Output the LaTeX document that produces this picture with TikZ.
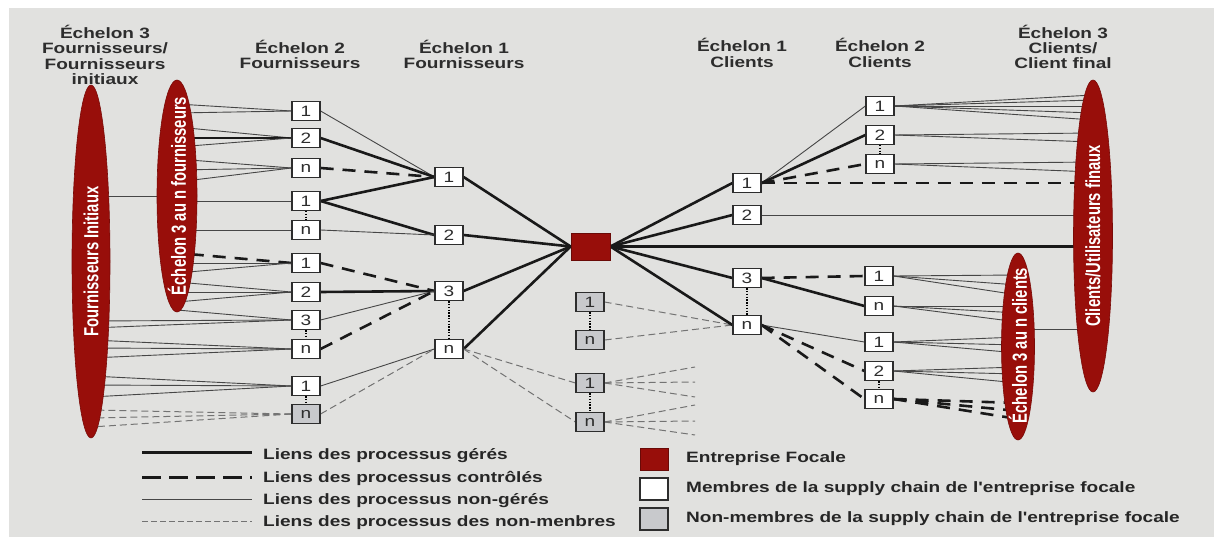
\documentclass[tikz,border=0pt]{standalone}
\usepackage{fontspec}
\usepackage{graphicx}
\setmainfont{Liberation Sans}
\newfontfamily\widefont{Liberation Sans}[FakeStretch=1.27]
\usetikzlibrary{shapes.geometric}

\definecolor{paper}{RGB}{225,225,223}
\definecolor{focalred}{RGB}{152,14,10}
\definecolor{greybox}{RGB}{200,201,204}
\definecolor{ink}{RGB}{45,45,45}
\definecolor{thinline}{RGB}{70,70,70}
\definecolor{ghostline}{RGB}{115,115,115}

\pgfdeclarelayer{backdrop}
\pgfdeclarelayer{links}
\pgfsetlayers{backdrop,links,main}

\begin{document}
\begin{tikzpicture}[x=1pt,y=-1pt,
  member/.style={draw=ink,line width=1.2pt,fill=white,minimum width=28pt,minimum height=19pt,
    inner sep=0pt,text=ink,font=\widefont\fontsize{15}{15}\selectfont},
  outsider/.style={member,fill=greybox},
  focalbox/.style={draw=focalred!70!black,line width=0.8pt,fill=focalred,minimum width=39pt,
    minimum height=27pt,inner sep=0pt},
  tierell/.style={ellipse,fill=focalred,draw=focalred!80!black,line width=0.6pt,inner sep=0pt},
  elltext/.style={rotate=90,text=white,inner sep=0pt,font=\bfseries\fontsize{14.8}{15}\selectfont},
  header/.style={align=center,inner sep=0pt,text=ink,font=\widefont\bfseries\fontsize{15}{15.3}\selectfont},
  legtext/.style={anchor=west,inner sep=0pt,text=black!85,font=\widefont\bfseries\fontsize{15}{15}\selectfont},
  managed/.style={line width=2.6pt,black!90},
  controlled/.style={line width=2.6pt,black!90,dash pattern=on 13pt off 9pt},
  unmanaged/.style={line width=0.9pt,thinline},
  nonmember/.style={line width=1pt,ghostline,dash pattern=on 7pt off 4pt},
  dotlink/.style={line width=1.3pt,black,dash pattern=on 1.4pt off 1.4pt},
]
\useasboundingbox (0,0) rectangle (1214,537);
\begin{pgfonlayer}{backdrop}
  \fill[white] (0,0) rectangle (1214,537);
  \fill[paper] (9,8) rectangle (1214,537);
\end{pgfonlayer}

% ---------- column headers ----------
\node[header] (hS3) at (105,55) {Échelon 3\\Fournisseurs/\\Fournisseurs\\initiaux};
\node[header] (hS2) at (300,54.5) {Échelon 2\\Fournisseurs};
\node[header] (hS1) at (464,54.5) {Échelon 1\\Fournisseurs};
\node[header] (hC1) at (742,53) {Échelon 1\\Clients};
\node[header] (hC2) at (880,53) {Échelon 2\\Clients};
\node[header] (hC3) at (1063,47) {Échelon 3\\Clients/\\Client final};

% ---------- tier ellipses ----------
\node[tierell,minimum width=38pt,minimum height=353pt] (FI) at (91,261.5) {};
\node[tierell,minimum width=40pt,minimum height=232pt] (SE3) at (177,196) {};
\node[tierell,minimum width=39pt,minimum height=312pt] (CU) at (1093,236) {};
\node[tierell,minimum width=33pt,minimum height=187pt] (CE3) at (1018,346.5) {};
\node[elltext] (FIlab) at (FI.center) {\scalebox{1}[1.38]{Fournisseurs Initiaux}};
\node[elltext] (SE3lab) at (SE3.center) {\scalebox{1}[1.38]{Échelon 3 au n fournisseurs}};
\node[elltext] (CUlab) at (CU.center) {\scalebox{1}[1.38]{Clients/Utilisateurs finaux}};
\node[elltext] (CE3lab) at ([yshift=1pt]CE3.center) {\scalebox{1}[1.38]{Échelon 3 au n clients}};

% ---------- supplier boxes, tier 2 ----------
\node[member] (e2a1) at (306,111) {1};
\node[member] (e2a2) at (306,138) {2};
\node[member] (e2an) at (306,168) {n};
\node[member] (e2b1) at (306,201) {1};
\node[member] (e2bn) at (306,230) {n};
\node[member] (e2c1) at (306,263) {1};
\node[member] (e2c2) at (306,292) {2};
\node[member] (e2c3) at (306,320) {3};
\node[member] (e2cn) at (306,349) {n};
\node[member] (e2d1) at (306,386) {1};
\node[outsider] (e2dn) at (306,414) {n};

% ---------- supplier boxes, tier 1 ----------
\node[member] (f1) at (449,177) {1};
\node[member] (f2) at (449,235) {2};
\node[member] (f3) at (449,291) {3};
\node[member] (fn) at (449,349) {n};

% ---------- focal company and outsiders ----------
\node[focalbox] (focal) at (590.5,246.5) {};
\node[outsider] (g1) at (590,302) {1};
\node[outsider] (gn) at (590,340) {n};
\node[outsider] (h1) at (590,383) {1};
\node[outsider] (hn) at (590,422) {n};

% ---------- customer boxes, tier 1 ----------
\node[member] (k1) at (747,183) {1};
\node[member] (k2) at (747,215) {2};
\node[member] (k3) at (747,278) {3};
\node[member] (kn) at (747,325) {n};

% ---------- customer boxes, tier 2 ----------
\node[member] (m1) at (880,106) {1};
\node[member] (m2) at (880,135) {2};
\node[member] (mn) at (880,164) {n};
\node[member] (p1) at (879,276) {1};
\node[member] (pn) at (879,306) {n};
\node[member] (q1) at (879,342) {1};
\node[member] (q2) at (879,371) {2};
\node[member] (qn) at (879,399) {n};

% ---------- end points on the ellipses ----------
\foreach \yy in {104,113,127,138,147,159,170,182,196,201,230,253,263,273,282,292,302,310}
  \coordinate (se\yy) at (177,\yy);
\foreach \yy in {196,321,328,340,348,358,376,385,397,410,418,427}
  \coordinate (fi\yy) at (91,\yy);
\foreach \yy in {95,100,106,113,120,133,142,162,172,329}
  \coordinate (cu\yy) at (1093,\yy);
\foreach \yy in {275,285,295,306,313,322,329,337,345,353,367,374,383,403,411,419}
  \coordinate (ce\yy) at (1018,\yy);
% loose ends of the outsiders' links
\coordinate (fa1) at (695,367);
\coordinate (fa2) at (695,382);
\coordinate (fa3) at (695,397);
\coordinate (fa4) at (695,405);
\coordinate (fa5) at (695,421);
\coordinate (fa6) at (695,435);

\begin{pgfonlayer}{links}
  % ellipse to ellipse
  \draw[unmanaged] (fi196) -- (se196);
  \draw[unmanaged] (ce329) -- (cu329);
  % supplier tier 2 to tier 3
  \foreach \yy in {104,113} \draw[unmanaged] (e2a1.west) -- (se\yy);
  \draw[unmanaged] (e2a2.west) -- (se127);
  \draw[managed] (e2a2.west) -- (se138);
  \draw[unmanaged] (e2a2.west) -- (se147);
  \foreach \yy in {159,170,182} \draw[unmanaged] (e2an.west) -- (se\yy);
  \draw[unmanaged] (e2b1.west) -- (se201);
  \draw[unmanaged] (e2bn.west) -- (se230);
  \draw[controlled] (e2c1.west) -- (se253);
  \foreach \yy in {263,273} \draw[unmanaged] (e2c1.west) -- (se\yy);
  \foreach \yy in {282,292,302} \draw[unmanaged] (e2c2.west) -- (se\yy);
  \draw[unmanaged] (e2c3.west) -- (se310);
  \foreach \yy in {321,328} \draw[unmanaged] (e2c3.west) -- (fi\yy);
  \foreach \yy in {340,348,358} \draw[unmanaged] (e2cn.west) -- (fi\yy);
  \foreach \yy in {376,385,397} \draw[unmanaged] (e2d1.west) -- (fi\yy);
  \foreach \yy in {410,418,427} \draw[nonmember] (e2dn.west) -- (fi\yy);
  % supplier tier 2 to tier 1
  \draw[unmanaged] (e2a1.east) -- (f1.west);
  \draw[managed] (e2a2.east) -- (f1.west);
  \draw[controlled] (e2an.east) -- (f1.west);
  \draw[managed] (e2b1.east) -- (f1.west);
  \draw[managed] (e2b1.east) -- (f2.west);
  \draw[unmanaged] (e2bn.east) -- (f2.west);
  \draw[controlled] (e2c1.east) -- (f3.west);
  \draw[managed] (e2c2.east) -- (f3.west);
  \draw[unmanaged] (e2c3.east) -- (f3.west);
  \draw[controlled] (e2cn.east) -- (f3.west);
  \draw[unmanaged] (e2d1.east) -- (fn.west);
  \draw[nonmember] (e2dn.east) -- (fn.west);
  % supplier tier 1 to the focal company
  \foreach \b in {f1,f2,f3,fn} \draw[managed] (\b.east) -- (focal.west);
  % outsiders
  \draw[nonmember] (fn.east) -- (h1.west);
  \draw[nonmember] (fn.east) -- (hn.west);
  \draw[nonmember] (g1.east) -- (kn.west);
  \draw[nonmember] (gn.east) -- (kn.west);
  \foreach \e in {fa1,fa2,fa3} \draw[nonmember] (h1.east) -- (\e);
  \foreach \e in {fa4,fa5,fa6} \draw[nonmember] (hn.east) -- (\e);
  % focal company to customers
  \foreach \b in {k1,k2,k3,kn} \draw[managed] (focal.east) -- (\b.west);
  \draw[managed] (focal.east) -- (focal.east -| CU.center);
  % customer tier 1 to tier 2
  \draw[unmanaged] (k1.east) -- (m1.west);
  \draw[managed] (k1.east) -- (m2.west);
  \draw[controlled] (k1.east) -- (mn.west);
  \draw[controlled] (k1.east) -- (k1.east -| CU.center);
  \draw[unmanaged] (k2.east) -- (k2.east -| CU.center);
  \draw[controlled] (k3.east) -- (p1.west);
  \draw[managed] (k3.east) -- (pn.west);
  \draw[unmanaged] (kn.east) -- (q1.west);
  \draw[controlled] (kn.east) -- (q2.west);
  \draw[controlled] (kn.east) -- (qn.west);
  % customer tier 2 to tier 3
  \foreach \yy in {95,100,106,113,120} \draw[unmanaged] (m1.east) -- (cu\yy);
  \foreach \yy in {133,142} \draw[unmanaged] (m2.east) -- (cu\yy);
  \foreach \yy in {162,172} \draw[unmanaged] (mn.east) -- (cu\yy);
  \foreach \yy in {275,285,295} \draw[unmanaged] (p1.east) -- (ce\yy);
  \foreach \yy in {306,313,322} \draw[unmanaged] (pn.east) -- (ce\yy);
  \foreach \yy in {337,345,353} \draw[unmanaged] (q1.east) -- (ce\yy);
  \foreach \yy in {367,374,383} \draw[unmanaged] (q2.east) -- (ce\yy);
  \foreach \yy in {403,411,419} \draw[controlled] (qn.east) -- (ce\yy);
  % "1 ... n" ranges
  \foreach \a/\b in {e2b1/e2bn,e2c3/e2cn,e2d1/e2dn,f3/fn,g1/gn,h1/hn,k3/kn,m2/mn,q2/qn}
    \draw[dotlink] (\a.south) -- (\b.north);
\end{pgfonlayer}

% ---------- legend ----------
\coordinate (la1) at (142,452); \coordinate (lb1) at (252,452);
\coordinate (la2) at (142,477); \coordinate (lb2) at (252,477);
\coordinate (la3) at (142,499); \coordinate (lb3) at (252,499);
\coordinate (la4) at (142,521); \coordinate (lb4) at (252,521);
\draw[managed,line width=3pt] (la1) -- (lb1);
\draw[controlled,line width=3pt,dash pattern=on 19pt off 8pt] (la2) -- (lb2);
\draw[unmanaged] (la3) -- (lb3);
\draw[nonmember,dash pattern=on 6pt off 3pt] (la4) -- (lb4);
\node[legtext] (lt1) at (263,456) {Liens des processus gérés};
\node[legtext] (lt2) at (263,478.5) {Liens des processus contrôlés};
\node[legtext] (lt3) at (263,501) {Liens des processus non-gérés};
\node[legtext] (lt4) at (263,523) {Liens des processus des non-menbres};

\node[focalbox,minimum width=28pt,minimum height=22pt] (lq1) at (654,459) {};
\node[member,minimum height=22pt] (lq2) at (654,489) {};
\node[outsider,minimum height=22pt] (lq3) at (654,519) {};
\node[legtext] (lr1) at (686,459) {Entreprise Focale};
\node[legtext] (lr2) at (686,489) {Membres de la supply chain de l'entreprise focale};
\node[legtext] (lr3) at (686,519) {Non-membres de la supply chain de l'entreprise focale};
\end{tikzpicture}
\end{document}
